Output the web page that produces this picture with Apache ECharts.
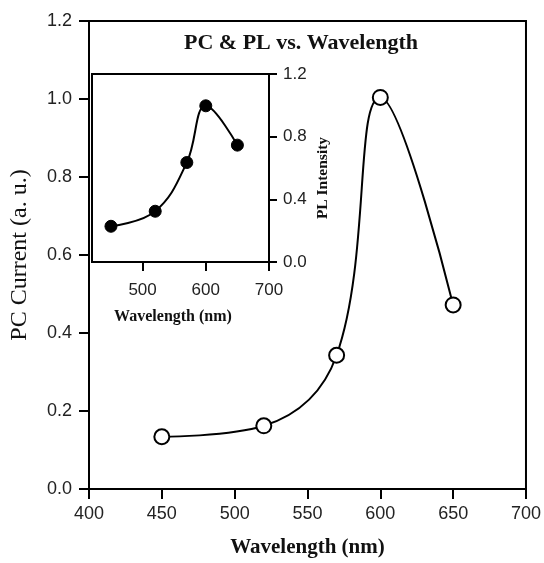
<!DOCTYPE html>
<html>
<head>
<meta charset="utf-8">
<script src="https://cdn.jsdelivr.net/npm/echarts@6/dist/echarts.min.js"></script>
<style>
  html, body { margin: 0; padding: 0; background: #fff; }
  #chart { width: 544px; height: 563px; }
</style>
</head>
<body>
<div id="chart"></div>
<script>
// data
const wavelengths = [450, 520, 570, 600, 650];
const pcCurrent = [0.134, 0.162, 0.343, 1.004, 0.472];
const plIntensity = [0.228, 0.324, 0.635, 0.997, 0.746];

const mainXTicks = [400, 450, 500, 550, 600, 650, 700];
const insetXTicks = [500, 600, 700];

const sans = "Liberation Sans";
const serif = "Liberation Serif";

const pairs = (xs, ys) => xs.map((x, i) => [x, ys[i]]);

const myChart = echarts.init(document.getElementById("chart"));
const option = {
  backgroundColor: "#fff",
  animation: false,
  graphic: [
    {
      type: "text",
      x: 301,
      y: 43,
      style: {
        text: "PC & PL vs. Wavelength",
        font: "bold 22px " + serif,
        fill: "#111",
        align: "center",
        verticalAlign: "middle",
      },
    },
    {
      type: "text",
      x: 173,
      y: 317,
      style: {
        text: "Wavelength (nm)",
        font: "bold 16px " + serif,
        fill: "#111",
        align: "center",
        verticalAlign: "middle",
      },
    },
    {
      type: "text",
      x: 323,
      y: 178,
      rotation: Math.PI / 2,
      style: {
        text: "PL Intensity",
        font: "bold 15.5px " + serif,
        fill: "#111",
        align: "center",
        verticalAlign: "middle",
      },
    },
  ],
  grid: [
    { left: 89, top: 21, width: 437, height: 471, show: true, borderColor: "#000", borderWidth: 2 },
    { left: 92, top: 74, width: 177, height: 188, show: true, borderColor: "#000", borderWidth: 2 },
  ],
  xAxis: [
    {
      gridIndex: 0,
      type: "value",
      min: 400,
      max: 700,
      interval: 50,
      splitLine: { show: false },
      axisLine: { lineStyle: { color: "#000", width: 2 } },
      axisTick: { length: 10, lineStyle: { color: "#000", width: 2 } },
      axisLabel: { color: "#222", fontFamily: sans, fontSize: 18, margin: 16, customValues: mainXTicks },
      name: "Wavelength (nm)",
      nameLocation: "middle",
      nameGap: 48,
      nameTextStyle: { fontFamily: serif, fontWeight: "bold", fontSize: 21, color: "#111" },
    },
    {
      gridIndex: 1,
      type: "value",
      min: 420,
      max: 700,
      splitLine: { show: false },
      axisLine: { lineStyle: { color: "#000", width: 2 } },
      axisTick: { length: 9, lineStyle: { color: "#000", width: 2 }, customValues: insetXTicks },
      axisLabel: { color: "#222", fontFamily: sans, fontSize: 17, margin: 20, customValues: insetXTicks },
    },
  ],
  yAxis: [
    {
      gridIndex: 0,
      type: "value",
      min: 0,
      max: 1.2,
      interval: 0.2,
      splitLine: { show: false },
      axisLine: { lineStyle: { color: "#000", width: 2 } },
      axisTick: { length: 10, lineStyle: { color: "#000", width: 2 } },
      axisLabel: {
        color: "#222",
        fontFamily: sans,
        fontSize: 18,
        margin: 17,
        formatter: (v) => v.toFixed(1),
      },
      name: "PC Current (a. u.)",
      nameLocation: "middle",
      nameGap: 57,
      nameTextStyle: { fontFamily: serif, fontSize: 24, color: "#111" },
    },
    {
      gridIndex: 1,
      type: "value",
      position: "right",
      min: 0,
      max: 1.2,
      interval: 0.4,
      splitLine: { show: false },
      axisLine: { lineStyle: { color: "#000", width: 2 } },
      axisTick: { length: 8, lineStyle: { color: "#000", width: 2 } },
      axisLabel: {
        color: "#222",
        fontFamily: sans,
        fontSize: 17,
        margin: 14,
        formatter: (v) => v.toFixed(1),
      },
    },
  ],
  series: [
    {
      name: "PC",
      type: "line",
      xAxisIndex: 0,
      yAxisIndex: 0,
      data: pairs(wavelengths, pcCurrent),
      smooth: 0.4,
      symbol: "circle",
      symbolSize: 15,
      lineStyle: { color: "#000", width: 2 },
      itemStyle: { color: "#fff", borderColor: "#000", borderWidth: 2 },
      z: 3,
    },
    {
      name: "PL",
      type: "line",
      xAxisIndex: 1,
      yAxisIndex: 1,
      data: pairs(wavelengths, plIntensity),
      smooth: 0.4,
      symbol: "circle",
      symbolSize: 12,
      lineStyle: { color: "#000", width: 2 },
      itemStyle: { color: "#000", borderColor: "#000", borderWidth: 1 },
      z: 3,
    },
  ],
};
myChart.setOption(option);
window.onresize = function () {
  myChart.resize();
};
</script>
</body>
</html>
